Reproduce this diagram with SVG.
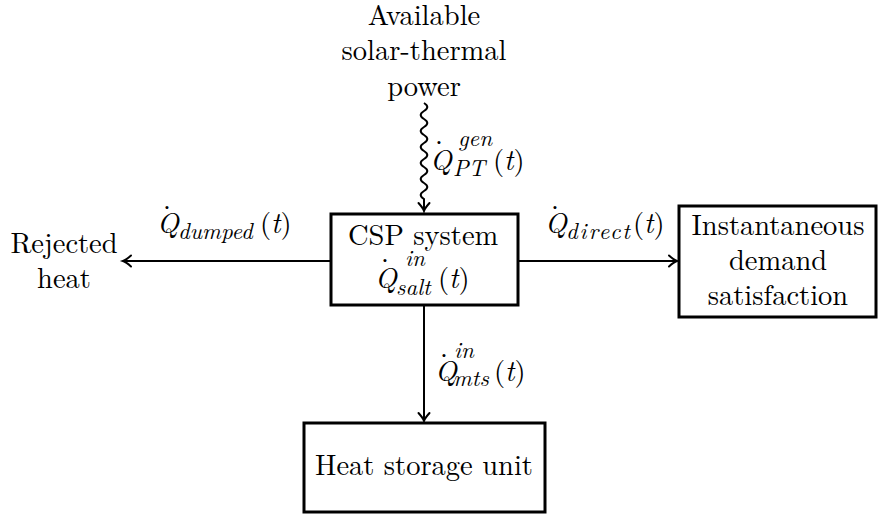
<svg xmlns="http://www.w3.org/2000/svg" width="879" height="515" viewBox="0 0 879 515">
<style>
.t{font-size:28.5px;text-anchor:middle}
.m{font-size:28.5px}
.i{font-style:italic}
.s{font-size:23px;font-style:italic}
.box{fill:#fff;stroke:#000;stroke-width:3}
.ln{fill:none;stroke:#000;stroke-width:2}
</style>
<defs>
<marker id="ah" markerUnits="userSpaceOnUse" viewBox="-10 -7 12 14" refX="0" refY="0" markerWidth="12" markerHeight="14" orient="auto" overflow="visible">
<path d="M-8,-5.5 Q-3,-1 0,0 Q-3,1 -8,5.5" fill="none" stroke="#000" stroke-width="2" stroke-linecap="round"/>
</marker>
</defs>
<g id="connectors">
<path class="ln" d="M424,103 q6.6,4 0,8 q-6.6,4 0,8 q6.6,4 0,8 q-6.6,4 0,8 q6.6,4 0,8 q-6.6,4 0,8 q6.6,4 0,8 q-6.6,4 0,8 q6.6,4 0,8 q-6.6,4 0,8 q6.6,4 0,8 q-6.6,4 0,8 L424,211" marker-end="url(#ah)"/>
<line class="ln" x1="331" y1="261" x2="123" y2="261" marker-end="url(#ah)"/>
<line class="ln" x1="518" y1="261" x2="677" y2="261" marker-end="url(#ah)"/>
<line class="ln" x1="424" y1="305" x2="424" y2="421" marker-end="url(#ah)"/>
</g>
<g id="source" font-family="Latin Modern Roman, Liberation Serif, serif">
<text class="t"><tspan x="424" y="25">Available</tspan><tspan x="424" y="60">solar-thermal</tspan><tspan x="424" y="96">power</tspan></text>
</g>
<g id="label-pt" font-family="Latin Modern Roman, Liberation Serif, serif">
<text class="m"><tspan class="i" x="430" y="170">Q</tspan><tspan x="435" y="160">˙</tspan><tspan class="s" x="458" y="146">gen</tspan><tspan class="s" x="453" y="176">PT</tspan><tspan x="493" y="170">(</tspan><tspan class="i">t</tspan><tspan>)</tspan></text>
</g>
<g id="csp" font-family="Latin Modern Roman, Liberation Serif, serif">
<rect class="box" x="331" y="214" width="187" height="91"/>
<text class="m"><tspan x="348" y="245">CSP system</tspan><tspan class="i" x="375" y="288">Q</tspan><tspan x="381" y="278">˙</tspan><tspan class="s" x="405" y="266">in</tspan><tspan class="s" x="396" y="295">salt</tspan><tspan x="438" y="288">(</tspan><tspan class="i">t</tspan><tspan>)</tspan></text>
</g>
<g id="rejected" font-family="Latin Modern Roman, Liberation Serif, serif">
<text class="t"><tspan x="64" y="253">Rejected</tspan><tspan x="64" y="288">heat</tspan></text>
</g>
<g id="label-dumped" font-family="Latin Modern Roman, Liberation Serif, serif">
<text class="m"><tspan class="i" x="157" y="233">Q</tspan><tspan x="163" y="225">˙</tspan><tspan class="s" x="178" y="239">dumped</tspan><tspan x="260" y="233">(</tspan><tspan class="i">t</tspan><tspan>)</tspan></text>
</g>
<g id="label-direct" font-family="Latin Modern Roman, Liberation Serif, serif">
<text class="m"><tspan class="i" x="545" y="233">Q</tspan><tspan x="551" y="225">˙</tspan><tspan class="s" x="566" y="239" textLength="64" lengthAdjust="spacing">direct</tspan><tspan x="633" y="233">(</tspan><tspan class="i">t</tspan><tspan>)</tspan></text>
</g>
<g id="demand" font-family="Latin Modern Roman, Liberation Serif, serif">
<rect class="box" x="679" y="206" width="197" height="111"/>
<text class="t"><tspan x="778" y="235">Instantaneous</tspan><tspan x="778" y="270">demand</tspan><tspan x="778" y="305">satisfaction</tspan></text>
</g>
<g id="label-mts" font-family="Latin Modern Roman, Liberation Serif, serif">
<text class="m"><tspan class="i" x="435" y="381">Q</tspan><tspan x="440" y="373">˙</tspan><tspan class="s" x="454" y="358">in</tspan><tspan class="s" x="453" y="386">mts</tspan><tspan x="494" y="381">(</tspan><tspan class="i">t</tspan><tspan>)</tspan></text>
</g>
<g id="storage" font-family="Latin Modern Roman, Liberation Serif, serif">
<rect class="box" x="304" y="423" width="241" height="89"/>
<text class="t" x="424" y="475">Heat storage unit</text>
</g>
</svg>
